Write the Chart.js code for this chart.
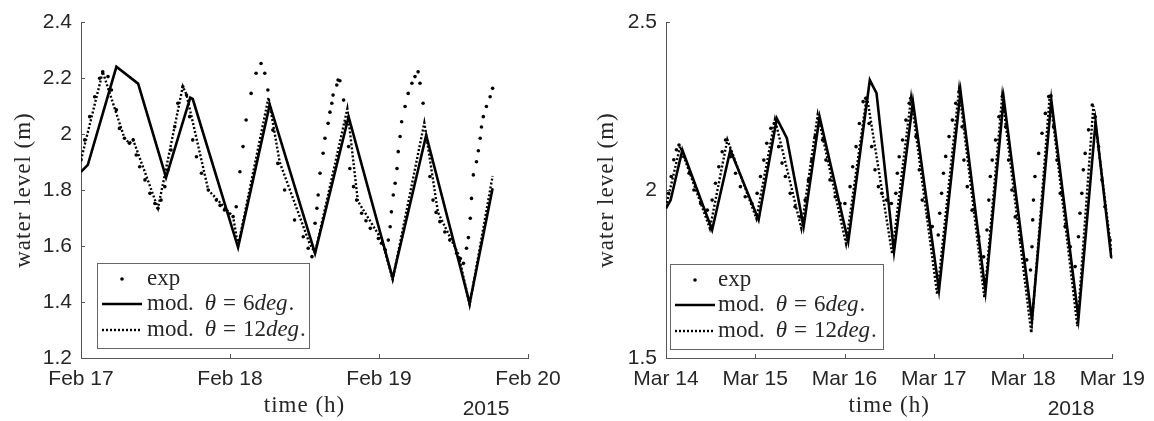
<!DOCTYPE html>
<html lang="en">
<head>
<meta charset="UTF-8">
<title>Water level: experiment vs model</title>
<script src="https://cdn.jsdelivr.net/npm/chart.js"></script>
<style>
  body { margin: 0; background: #fff; }
  .panel { position: absolute; top: 0; width: 577px; height: 421px; }
  #leftPanel { left: 0; }
  #rightPanel { left: 577px; }
</style>
</head>
<body>
<div class="panel" id="leftPanel"><canvas id="left" width="577" height="421"></canvas></div>
<div class="panel" id="rightPanel"><canvas id="right" width="577" height="421"></canvas></div>

<script>
// ---- left panel: Feb 17-20, 2015 (hours since Feb 17 00:00) ----
const daysL = ['Feb 17', 'Feb 18', 'Feb 19', 'Feb 20'];
const yTicksL = ['1.2', '1.4', '1.6', '1.8', '2', '2.2', '2.4'];
const yearL = '2015';

const expHoursL = [0, 0.6, 1.4, 2.2, 3.0, 3.5, 4.35, 4.9, 5.7, 6.2, 7.0, 7.8, 8.4, 8.9, 9.45, 10.3, 11.1, 11.9, 12.4,
  12.9, 13.5, 14.0, 14.5, 15.1, 15.6, 16.4, 17.0, 17.5, 18.0, 18.6, 19.4, 20.5, 21.8, 22.4, 23.1, 23.8, 24.5, 25.0,
  25.6, 26.1, 26.6, 27.4, 28.2, 29.0, 29.6, 30.1, 30.9, 31.7, 32.8, 34.4, 35.8, 36.6, 37.2, 37.7, 38.0, 38.2, 38.5,
  39.0, 39.3, 39.8, 40.1, 40.4, 40.6, 41.2, 41.4, 41.7, 42.3, 42.7, 43.1, 43.3, 43.9, 44.4, 45.2, 45.9, 46.6, 47.9,
  48.4, 49.0, 49.5, 49.8, 50.0, 50.3, 50.6, 50.9, 51.1, 51.4, 51.65, 52.2, 52.7, 53.3, 53.8, 54.3, 54.6, 55.1, 55.6,
  56.2, 56.7, 57.2, 57.8, 58.6, 59.4, 60.5, 61.1, 61.6, 62.1, 62.4, 62.7, 62.9, 63.2, 63.7, 64.0, 64.3, 64.5, 64.8,
  65.3, 65.9, 66.3];
const expLevelL = [1.907, 1.979, 2.062, 2.133, 2.199, 2.222, 2.205, 2.157, 2.086, 2.020, 1.985, 1.967, 1.979, 1.925,
  1.883, 1.836, 1.788, 1.752, 1.735, 1.764, 1.812, 1.871, 1.943, 2.026, 2.110, 2.169, 2.139, 2.062, 1.979, 1.919,
  1.860, 1.800, 1.764, 1.745, 1.729, 1.715, 1.705, 1.740, 1.865, 1.955, 2.050, 2.145, 2.217, 2.252, 2.217, 2.157,
  2.014, 1.895, 1.800, 1.693, 1.633, 1.592, 1.562, 1.681, 1.735, 1.782, 1.860, 1.931, 1.985, 2.038, 2.078, 2.110,
  2.139, 2.175, 2.193, 2.190, 2.121, 2.040, 1.955, 1.877, 1.812, 1.764, 1.717, 1.690, 1.663, 1.627, 1.610, 1.586,
  1.621, 1.669, 1.722, 1.782, 1.824, 1.877, 1.937, 1.991, 2.044, 2.098, 2.145, 2.181, 2.205, 2.222, 2.181, 2.110,
  1.980, 1.848, 1.764, 1.720, 1.687, 1.650, 1.621, 1.574, 1.555, 1.538, 1.592, 1.630, 1.699, 1.770, 1.854, 1.901,
  1.940, 1.985, 2.025, 2.062, 2.098, 2.133, 2.163];

const mod6HoursL = [0, 1.1, 5.7, 9.2, 13.7, 17.6, 18.0, 25.3, 30.4, 37.7, 43.1, 50.2, 55.6, 62.6, 66.3];
const mod6LevelL = [1.865, 1.89, 2.24, 2.18, 1.845, 2.13, 2.125, 1.595, 2.105, 1.574, 2.062, 1.485, 1.996, 1.395, 1.806];

const mod12HoursL = [0, 3.5, 7.0, 7.8, 8.4, 12.4, 16.4, 17.0, 20.5, 24.5, 25.3, 30.2, 32.0, 36.8, 37.7, 42.9, 44.6,
  48.5, 50.2, 55.3, 57.5, 60.8, 62.6, 66.3];
const mod12LevelL = [1.907, 2.222, 1.985, 1.967, 1.979, 1.735, 2.17, 2.14, 1.80, 1.705, 1.60, 2.13, 1.90, 1.61, 1.575,
  2.09, 1.76, 1.62, 1.48, 2.04, 1.72, 1.57, 1.39, 1.85];

// ---- right panel: Mar 14-19, 2018 (hours since Mar 14 00:00) ----
const daysR = ['Mar 14', 'Mar 15', 'Mar 16', 'Mar 17', 'Mar 18', 'Mar 19'];
const yTicksR = ['1.5', '2', '2.5'];
const yearR = '2018';

const expHoursR = [0, 0.7, 1.4, 2.1, 2.8, 3.5, 4.8, 6.2, 7.5, 9.3, 11.1, 12.4, 13.3, 14.2, 15.1, 16.0, 17.3, 18.7,
  20.0, 21.3, 23.1, 24.5, 25.4, 26.3, 27.1, 28.2, 29.1, 30.3, 31.2, 32.1, 33.4, 34.7, 36.1, 37.4, 38.3, 39.2, 40.1,
  41.0, 42.1, 43.0, 44.1, 45.5, 46.8, 48.1, 49.5, 50.2, 51.1, 52.0, 53.0, 53.7, 54.6, 55.3, 56.2, 57.1, 58.0, 59.3,
  60.6, 61.8, 62.2, 62.7, 63.6, 64.5, 65.4, 65.8, 67.2, 68.1, 68.9, 70.3, 71.6, 73.2, 73.6, 74.1, 74.6, 75.2, 76.1,
  77.0, 77.9, 78.8, 79.6, 80.1, 81.0, 82.3, 84.1, 85.4, 86.3, 86.8, 87.2, 87.7, 88.6, 89.5, 90.4, 91.3, 92.1, 93.0,
  93.9, 95.3, 97.0, 98.0, 98.4, 98.6, 98.8, 99.2, 100.2, 101.1, 102.0, 102.9, 103.5, 104.2, 105.1, 106.0, 107.3,
  108.7, 110.0, 110.9, 111.3, 111.8, 112.2, 112.7, 113.6, 114.6, 115.4, 116.3, 117.2, 118.0, 119.4, 119.8];
const expLevelR = [1.95, 1.99, 2.04, 2.09, 2.12, 2.134, 2.099, 2.05, 2.0, 1.96, 1.94, 1.97, 2.02, 2.069, 2.114, 2.149,
  2.099, 2.05, 2.01, 1.98, 1.96, 1.99, 2.04, 2.089, 2.139, 2.184, 2.198, 2.129, 2.08, 2.04, 1.99, 1.95, 1.92, 1.97,
  2.03, 2.089, 2.159, 2.213, 2.149, 2.089, 2.03, 1.98, 1.96, 1.96, 2.01, 2.069, 2.129, 2.198, 2.263, 2.273, 2.198,
  2.129, 2.06, 2.01, 1.99, 1.97, 1.96, 1.99, 2.05, 2.099, 2.149, 2.208, 2.258, 2.273, 2.159, 2.06, 1.97, 1.92, 1.891,
  1.866, 1.931, 1.99, 2.05, 2.10, 2.159, 2.208, 2.258, 2.293, 2.188, 2.089, 2.01, 1.94, 1.861, 1.801, 1.881, 1.97,
  2.04, 2.089, 2.149, 2.218, 2.278, 2.188, 2.089, 2.0, 1.92, 1.851, 1.792, 1.762, 1.831, 1.911, 1.97, 2.04, 2.109,
  2.169, 2.228, 2.278, 2.28, 2.188, 2.089, 1.99, 1.891, 1.831, 1.772, 1.861, 1.931, 1.99, 2.06, 2.109, 2.179, 2.253,
  2.218, 2.129, 2.03, 1.95, 1.851, 1.801];

const mod6HoursR = [0, 1.25, 4.4, 12.4, 17.3, 24.9, 29.8, 32.5, 37.0, 41.3, 49.0, 54.8, 56.6, 61.3, 66.4, 73.4, 79.2,
  85.9, 90.8, 98.4, 103.6, 110.9, 115.5, 119.7];
const mod6LevelR = [1.945, 1.97, 2.119, 1.881, 2.119, 1.911, 2.213, 2.154, 1.891, 2.218, 1.846, 2.327, 2.288, 1.816,
  2.263, 1.702, 2.293, 1.697, 2.273, 1.613, 2.268, 1.618, 2.203, 1.80];

const mod12HoursR = [0, 3.8, 11.8, 16.5, 24.3, 29.3, 36.4, 40.8, 48.4, 54.0, 60.8, 65.9, 72.9, 78.8, 85.6, 90.4, 98.2,
  103.2, 110.6, 114.9, 119.7];
const mod12LevelR = [1.95, 2.13, 1.885, 2.15, 1.915, 2.21, 1.885, 2.225, 1.84, 2.28, 1.81, 2.275, 1.69, 2.30, 1.68,
  2.28, 1.575, 2.285, 1.595, 2.25, 1.82];

const thetaDeg = [6, 12];

const SANS = "'Liberation Sans', Arial, sans-serif";
const SERIF = "'Liberation Serif', 'Times New Roman', serif";
const INK = '#262626';
const AXIS = '#555555';

function pts(hours, levels) {
  return hours.map((h, i) => ({ x: h, y: levels[i] }));
}

// draws "mod. θ = Ndeg." with the italic bits like the LaTeX legend
function drawModLabel(ctx, x, y, n) {
  const up = '23px ' + SERIF, it = 'italic 23px ' + SERIF;
  const parts = [['mod.', up, 11], ['θ', it, 7], ['=', up, 7], [String(n), up, 0], ['deg', it, 1], ['.', up, 0]];
  for (const [t, f, gap] of parts) {
    ctx.font = f;
    ctx.fillText(t, x, y);
    x += ctx.measureText(t).width + gap;
  }
}

function extrasPlugin(cfg) {
  return {
    id: 'extras',
    afterDraw(chart) {
      const ctx = chart.ctx;
      const area = chart.chartArea;
      const xs = chart.scales.x, ys = chart.scales.y;
      ctx.save();

      // inward ticks
      ctx.strokeStyle = AXIS;
      ctx.lineWidth = 1;
      ctx.beginPath();
      ys.ticks.forEach((t, i) => {
        const p = Math.round(ys.getPixelForTick(i)) + 0.5;
        ctx.moveTo(area.left, p); ctx.lineTo(area.left + 4, p);
      });
      xs.ticks.forEach((t, i) => {
        const p = Math.round(xs.getPixelForTick(i)) + 0.5;
        ctx.moveTo(p, area.bottom); ctx.lineTo(p, area.bottom - 4);
      });
      ctx.stroke();

      // axis titles
      ctx.fillStyle = INK;
      ctx.textAlign = 'center';
      ctx.textBaseline = 'alphabetic';
      ctx.font = '23px ' + SERIF;
      ctx.letterSpacing = '1px';
      ctx.fillText('time (h)', (area.left + area.right) / 2, 412);
      ctx.save();
      ctx.translate(cfg.yTitleX, (area.top + area.bottom) / 2);
      ctx.rotate(-Math.PI / 2);
      ctx.fillText('water level (m)', 0, 0);
      ctx.restore();
      ctx.letterSpacing = '0px';

      // year under the last date ticks
      ctx.font = '21px ' + SANS;
      ctx.fillText(cfg.year, cfg.yearX, 415);

      // legend
      const b = cfg.legend;
      ctx.fillStyle = '#fff';
      ctx.fillRect(b.x, b.y, b.w, b.h);
      ctx.strokeStyle = '#666';
      ctx.strokeRect(b.x + 0.5, b.y + 0.5, b.w, b.h);
      const rows = [b.y + 16, b.y + 41, b.y + 67];
      ctx.fillStyle = '#000';
      ctx.beginPath();
      ctx.arc(b.x + 25, rows[0], 1.8, 0, Math.PI * 2);
      ctx.fill();
      ctx.strokeStyle = '#000';
      ctx.lineWidth = 2.6;
      ctx.beginPath();
      ctx.moveTo(b.x + 5, rows[1]); ctx.lineTo(b.x + 45, rows[1]);
      ctx.stroke();
      ctx.setLineDash([2, 2]);
      ctx.lineWidth = 2.4;
      ctx.beginPath();
      ctx.moveTo(b.x + 5, rows[2]); ctx.lineTo(b.x + 45, rows[2]);
      ctx.stroke();
      ctx.setLineDash([]);

      ctx.fillStyle = INK;
      ctx.textAlign = 'left';
      ctx.font = '23px ' + SERIF;
      ctx.fillText('exp', b.x + b.textDx, rows[0] + 6);
      drawModLabel(ctx, b.x + b.textDx, rows[1] + 6, thetaDeg[0]);
      drawModLabel(ctx, b.x + b.textDx, rows[2] + 6, thetaDeg[1]);
      ctx.restore();
    }
  };
}

function makeChart(id, cfg) {
  return new Chart(document.getElementById(id), {
    type: 'scatter',
    data: {
      datasets: [
        { label: 'exp', data: pts(cfg.exp[0], cfg.exp[1]), showLine: false, pointRadius: 1.8,
          pointBackgroundColor: '#000', pointBorderWidth: 0 },
        { label: 'mod. θ = 6deg.', data: pts(cfg.mod6[0], cfg.mod6[1]), showLine: true, borderColor: '#000',
          borderWidth: 2.6, pointRadius: 0, tension: 0 },
        { label: 'mod. θ = 12deg.', data: pts(cfg.mod12[0], cfg.mod12[1]), showLine: true, borderColor: '#000',
          borderWidth: 2.4, borderDash: [2, 2], pointRadius: 0, tension: 0 }
      ]
    },
    options: {
      responsive: false,
      animation: false,
      layout: { padding: { top: 22, right: cfg.padRight, bottom: 0, left: 0 } },
      plugins: { legend: { display: false }, tooltip: { enabled: false } },
      scales: {
        x: {
          type: 'linear', min: 0, max: cfg.xMax,
          ticks: {
            stepSize: 24, autoSkip: false, maxRotation: 0, padding: 9, color: INK,
            font: { family: SANS, size: 21 },
            callback: v => cfg.days[Math.round(v / 24)]
          },
          grid: { display: true, drawOnChartArea: false, drawTicks: false },
          border: { color: AXIS, width: 1 },
          afterFit: s => { s.height = 63; }
        },
        y: {
          min: cfg.yMin, max: cfg.yMax,
          ticks: {
            stepSize: cfg.yStep, padding: 9, color: INK,
            font: { family: SANS, size: 21 },
            callback: v => cfg.yTicks[Math.round((v - cfg.yMin) / cfg.yStep)]
          },
          grid: { display: true, drawOnChartArea: false, drawTicks: false },
          border: { color: AXIS, width: 1 },
          afterFit: s => { s.width = cfg.yWidth; }
        }
      }
    },
    plugins: [extrasPlugin(cfg)]
  });
}

makeChart('left', {
  days: daysL, yTicks: yTicksL, year: yearL, yearX: 486, yTitleX: 30,
  xMax: 72, yMin: 1.2, yMax: 2.4, yStep: 0.2, yWidth: 81, padRight: 49,
  exp: [expHoursL, expLevelL], mod6: [mod6HoursL, mod6LevelL], mod12: [mod12HoursL, mod12LevelL],
  legend: { x: 97, y: 263, w: 212, h: 85, textDx: 50 }
});

makeChart('right', {
  days: daysR, yTicks: yTicksR, year: yearR, yearX: 1071 - 577, yTitleX: 613 - 577,
  xMax: 120, yMin: 1.5, yMax: 2.5, yStep: 0.5, yWidth: 89, padRight: 40,
  exp: [expHoursR, expLevelR], mod6: [mod6HoursR, mod6LevelR], mod12: [mod12HoursR, mod12LevelR],
  legend: { x: 93, y: 264, w: 213, h: 85, textDx: 48 }
});
</script>
</body>
</html>
